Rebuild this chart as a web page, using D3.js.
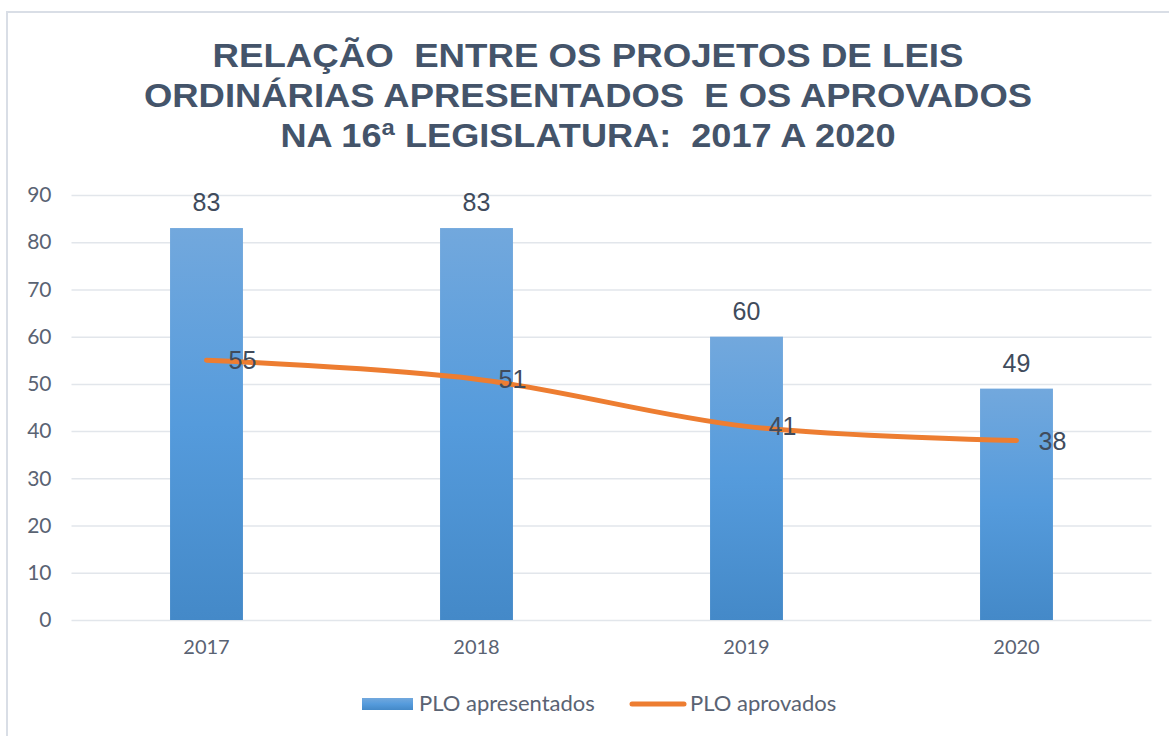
<!DOCTYPE html>
<html>
<head>
<meta charset="utf-8">
<script src="https://cdn.jsdelivr.net/npm/d3@7"></script>
<style>
  body { margin: 0; background: #fff; }
  svg { display: block; }
</style>
</head>
<body>
<div id="chart"></div>
<script>
// data
const years = ["2017", "2018", "2019", "2020"]
const apresentados = [83, 83, 60, 49]
const aprovados = [55, 51, 41, 38]
const yTicks = [0, 10, 20, 30, 40, 50, 60, 70, 80, 90]
const titleLines = [
  "RELAÇÃO  ENTRE OS PROJETOS DE LEIS",
  "ORDINÁRIAS APRESENTADOS  E OS APROVADOS",
  "NA 16ª LEGISLATURA:  2017 A 2020"
]
const legendLabels = ["PLO apresentados", "PLO aprovados"]

function drawChart() {
  const width = 1169
  const height = 736
  const plot = {left: 71.5, right: 1151.5, top: 195, bottom: 620}

  const textColor = "#5a6373"
  const labelColor = "#404b5c"
  const orange = "#ed7d31"

  const svg = d3.select("#chart")
    .append("svg")
    .attr("width", width)
    .attr("height", height)

  // gradient for the bars
  const grad = svg.append("defs")
    .append("linearGradient")
    .attr("id", "barGrad")
    .attr("x1", 0).attr("y1", 0).attr("x2", 0).attr("y2", 1)
  grad.append("stop").attr("offset", "0%").attr("stop-color", "#72a8dd")
  grad.append("stop").attr("offset", "50%").attr("stop-color", "#559bdc")
  grad.append("stop").attr("offset", "100%").attr("stop-color", "#4489c8")

  // chart frame (runs off the page on the right and bottom)
  svg.append("rect")
    .attr("x", 7)
    .attr("y", 12)
    .attr("width", 1200)
    .attr("height", 760)
    .attr("fill", "#fff")
    .attr("stroke", "#d9dee6")
    .attr("stroke-width", 2)

  // title
  const titleWidths = [751, 888, 615]
  svg.append("g")
    .selectAll("text")
    .data(titleLines)
    .join("text")
    .attr("x", 588)
    .attr("y", (d, i) => 67 + i * 40)
    .attr("text-anchor", "middle")
    .attr("font-family", "Liberation Sans, Arial, sans-serif")
    .attr("font-weight", "bold")
    .attr("font-size", "33px")
    .attr("fill", "#44546a")
    .attr("textLength", (d, i) => titleWidths[i])
    .attr("lengthAdjust", "spacingAndGlyphs")
    .style("white-space", "pre")
    .text(d => d)

  // scales
  const xScale = d3.scaleBand()
    .domain(years)
    .range([plot.left, plot.right])
    .paddingInner(0.73)
    .paddingOuter(0.365)

  const yScale = d3.scaleLinear()
    .domain([0, 90])
    .range([plot.bottom, plot.top])

  const xCenter = d => xScale(d) + xScale.bandwidth() / 2

  // gridlines + y labels
  const yAxis = d3.axisLeft(yScale)
    .tickValues(yTicks)
    .tickSize(-(plot.right - plot.left))
    .tickPadding(20)
    .tickFormat(d3.format("d"))

  const yG = svg.append("g")
    .attr("transform", `translate(${plot.left}, 0)`)
    .call(yAxis)
  yG.select(".domain").remove()
  yG.selectAll(".tick line")
    .attr("stroke", "#e2e6eb")
    .attr("stroke-width", 1.5)
  yG.selectAll(".tick text")
    .attr("font-family", "Lato, Carlito, sans-serif")
    .attr("font-size", "21px")
    .attr("fill", textColor)

  // x labels
  const xAxis = d3.axisBottom(xScale)
    .tickSize(0)
    .tickPadding(20)
  const xG = svg.append("g")
    .attr("transform", `translate(0, ${plot.bottom})`)
    .call(xAxis)
  xG.select(".domain").remove()
  xG.selectAll(".tick text")
    .attr("font-family", "Lato, Carlito, sans-serif")
    .attr("font-size", "20px")
    .attr("fill", textColor)

  // bars
  svg.append("g")
    .selectAll("rect")
    .data(apresentados)
    .join("rect")
    .attr("x", (d, i) => xScale(years[i]))
    .attr("y", d => yScale(d))
    .attr("width", xScale.bandwidth())
    .attr("height", d => yScale(0) - yScale(d))
    .attr("fill", "url(#barGrad)")

  // bar labels
  svg.append("g")
    .selectAll("text")
    .data(apresentados)
    .join("text")
    .attr("x", (d, i) => xCenter(years[i]))
    .attr("y", d => yScale(d) - 17)
    .attr("text-anchor", "middle")
    .attr("font-family", "Liberation Sans, Arial, sans-serif")
    .attr("font-size", "25px")
    .attr("fill", labelColor)
    .text(d => d)

  // smoothed line
  const lineGenerator = d3.line()
    .x((d, i) => xCenter(years[i]))
    .y(d => yScale(d))
    .curve(d3.curveCatmullRom.alpha(0.5))

  svg.append("path")
    .datum(aprovados)
    .attr("d", lineGenerator)
    .attr("fill", "none")
    .attr("stroke", orange)
    .attr("stroke-width", 5)
    .attr("stroke-linecap", "round")

  // line labels, to the right of the points
  svg.append("g")
    .selectAll("text")
    .data(aprovados)
    .join("text")
    .attr("x", (d, i) => xCenter(years[i]) + 22)
    .attr("y", d => yScale(d) + 9)
    .attr("font-family", "Liberation Sans, Arial, sans-serif")
    .attr("font-size", "25px")
    .attr("fill", labelColor)
    .text(d => d)

  // legend
  const legend = svg.append("g")
  legend.append("rect")
    .attr("x", 362)
    .attr("y", 698)
    .attr("width", 51)
    .attr("height", 12)
    .attr("fill", "url(#barGrad)")
  legend.append("line")
    .attr("x1", 632).attr("x2", 684)
    .attr("y1", 704).attr("y2", 704)
    .attr("stroke", orange)
    .attr("stroke-width", 5)
    .attr("stroke-linecap", "round")
  legend.selectAll("text")
    .data(legendLabels)
    .join("text")
    .attr("x", (d, i) => i === 0 ? 419 : 690)
    .attr("y", 711)
    .attr("font-family", "Lato, Carlito, sans-serif")
    .attr("font-size", "22px")
    .attr("fill", textColor)
    .text(d => d)
}

drawChart()
</script>
</body>
</html>
